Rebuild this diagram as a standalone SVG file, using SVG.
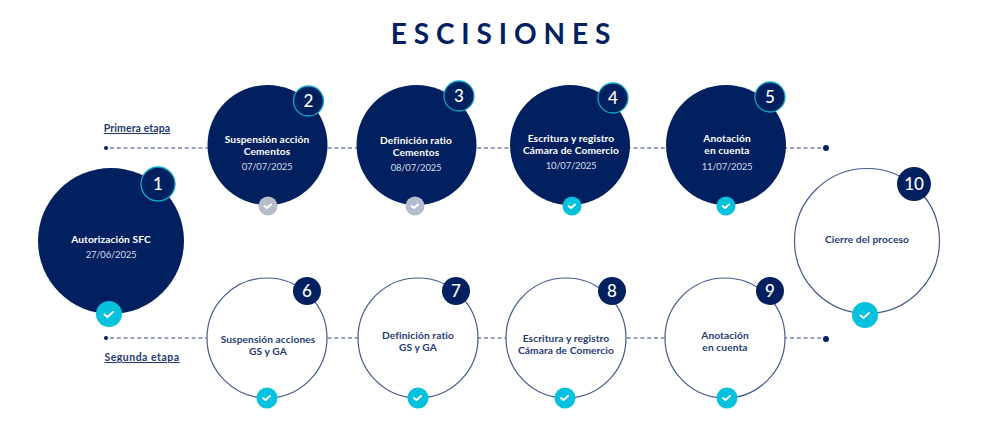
<svg xmlns="http://www.w3.org/2000/svg" width="988" height="447" viewBox="0 0 988 447">
<style>
text{font-family:"Lato","Liberation Sans",sans-serif;text-anchor:middle}
.dark{fill:#01205f}
.out{fill:#fff;stroke:#445a8c;stroke-width:1.2}
.b{fill:#01205f}
.bc{fill:#01205f;stroke:#10a9c9;stroke-width:1.3}
.nw{fill:#fff;font-size:17px;font-weight:500}
.tw{fill:#fff;font-size:10.2px;font-weight:700;letter-spacing:.1px}
.tb{fill:#1f3a75;font-size:10.2px;font-weight:700;letter-spacing:.1px}
.d{fill:#d5dbe8;font-size:9.5px;letter-spacing:-.2px}
.cy{fill:#04c1de}.gr{fill:#b4bccd}
.ck{fill:none;stroke:#fff;stroke-width:2;stroke-linecap:round;stroke-linejoin:round}
.ln{fill:none;stroke:#33497f;stroke-width:1.2;stroke-dasharray:4 2.800}
.lab{fill:#1f3a75;font-size:10.5px;font-weight:700;text-decoration:underline}
</style>
<rect width="988" height="447" fill="#fff"/>
<text x="504" y="44" font-size="28" font-weight="700" fill="#01205f" letter-spacing="6.900">ESCISIONES</text>
<g id="connectors">
<path class="ln" d="M110 148H826"/>
<path class="ln" d="M110 338H826"/>
<circle cx="106" cy="148" r="2" fill="#01205f"/>
<circle cx="826" cy="148" r="3" fill="#01205f"/>
<circle cx="106" cy="338" r="2" fill="#01205f"/>
<circle cx="826" cy="339" r="3" fill="#01205f"/>
</g>
<text class="lab" x="137" y="132" letter-spacing=".1">Primera etapa</text>
<text class="lab" x="142" y="361" letter-spacing=".5">Segunda etapa</text>
<g id="node1"><circle class="dark" cx="111" cy="241" r="73"/><circle class="bc" cx="158" cy="184" r="17"/><text class="nw" x="158" y="190">1</text><text class="tw" x="111" y="243">Autorización SFC</text><text class="d" x="111" y="258">27/06/2025</text><circle class="cy" cx="109" cy="314" r="13"/><path class="ck" d="M104.500 314.500l3 2.500l5.500-5"/></g>
<g id="node2"><circle class="dark" cx="267.500" cy="145" r="60"/><circle class="bc" cx="308.500" cy="101" r="15"/><text class="nw" x="308.500" y="107">2</text><text class="tw" x="267" y="143">Suspensión acción</text><text class="tw" x="267" y="155">Cementos</text><text class="d" x="267" y="170">07/07/2025</text><circle class="gr" cx="268" cy="206" r="9.500"/><path class="ck" d="M264.500 206l2.500 2l4-3.500"/></g>
<g id="node3"><circle class="dark" cx="416.500" cy="145" r="60"/><circle class="bc" cx="459" cy="96" r="15"/><text class="nw" x="459" y="102">3</text><text class="tw" x="416" y="144">Definición ratio</text><text class="tw" x="416" y="156">Cementos</text><text class="d" x="416" y="171">08/07/2025</text><circle class="gr" cx="415" cy="206" r="9.500"/><path class="ck" d="M411.500 206l2.500 2l4-3.500"/></g>
<g id="node4"><circle class="dark" cx="570" cy="145" r="60"/><circle class="bc" cx="613" cy="98" r="15"/><text class="nw" x="613" y="104">4</text><text class="tw" x="571" y="142">Escritura y registro</text><text class="tw" x="571" y="154">Cámara de Comercio</text><text class="d" x="571" y="169">10/07/2025</text><circle class="cy" cx="572" cy="206" r="9.500"/><path class="ck" d="M568.500 206l2.500 2l4-3.500"/></g>
<g id="node5"><circle class="dark" cx="726" cy="145" r="60"/><circle class="bc" cx="770" cy="97" r="15"/><text class="nw" x="770" y="103">5</text><text class="tw" x="727" y="142">Anotación</text><text class="tw" x="727" y="154">en cuenta</text><text class="d" x="727" y="170">11/07/2025</text><circle class="cy" cx="726" cy="206" r="9.500"/><path class="ck" d="M722.500 206l2.500 2l4-3.500"/></g>
<g id="node6"><circle class="out" cx="267" cy="338" r="60"/><circle class="b" cx="307" cy="291" r="14"/><text class="nw" x="307" y="297">6</text><text class="tb" x="268" y="343">Suspensión acciones</text><text class="tb" x="268" y="355">GS y GA</text><circle class="cy" cx="267" cy="398" r="10.500"/><path class="ck" d="M263 398l2.500 2l4.500-4"/></g>
<g id="node7"><circle class="out" cx="418" cy="338" r="60"/><circle class="b" cx="456" cy="291" r="14"/><text class="nw" x="456" y="297">7</text><text class="tb" x="418" y="339">Definición ratio</text><text class="tb" x="418" y="351">GS y GA</text><circle class="cy" cx="418" cy="398" r="10.500"/><path class="ck" d="M414 398l2.500 2l4.500-4"/></g>
<g id="node8"><circle class="out" cx="566" cy="338" r="60"/><circle class="b" cx="612" cy="291" r="14"/><text class="nw" x="612" y="297">8</text><text class="tb" x="566" y="342">Escritura y registro</text><text class="tb" x="566" y="354">Cámara de Comercio</text><circle class="cy" cx="565" cy="398" r="10.500"/><path class="ck" d="M561 398l2.500 2l4.500-4"/></g>
<g id="node9"><circle class="out" cx="725" cy="338" r="60"/><circle class="b" cx="770" cy="291" r="14"/><text class="nw" x="770" y="297">9</text><text class="tb" x="725" y="339">Anotación</text><text class="tb" x="725" y="351">en cuenta</text><circle class="cy" cx="727" cy="398" r="10.500"/><path class="ck" d="M723 398l2.500 2l4.500-4"/></g>
<g id="node10"><circle class="out" cx="867" cy="241" r="72.500"/><circle class="b" cx="914" cy="184" r="17"/><text class="nw" x="914" y="190">10</text><text class="tb" x="867" y="243">Cierre del proceso</text><circle class="cy" cx="865" cy="315" r="13"/><path class="ck" d="M860.500 315.500l3 2.500l5.500-5"/></g>
</svg>
